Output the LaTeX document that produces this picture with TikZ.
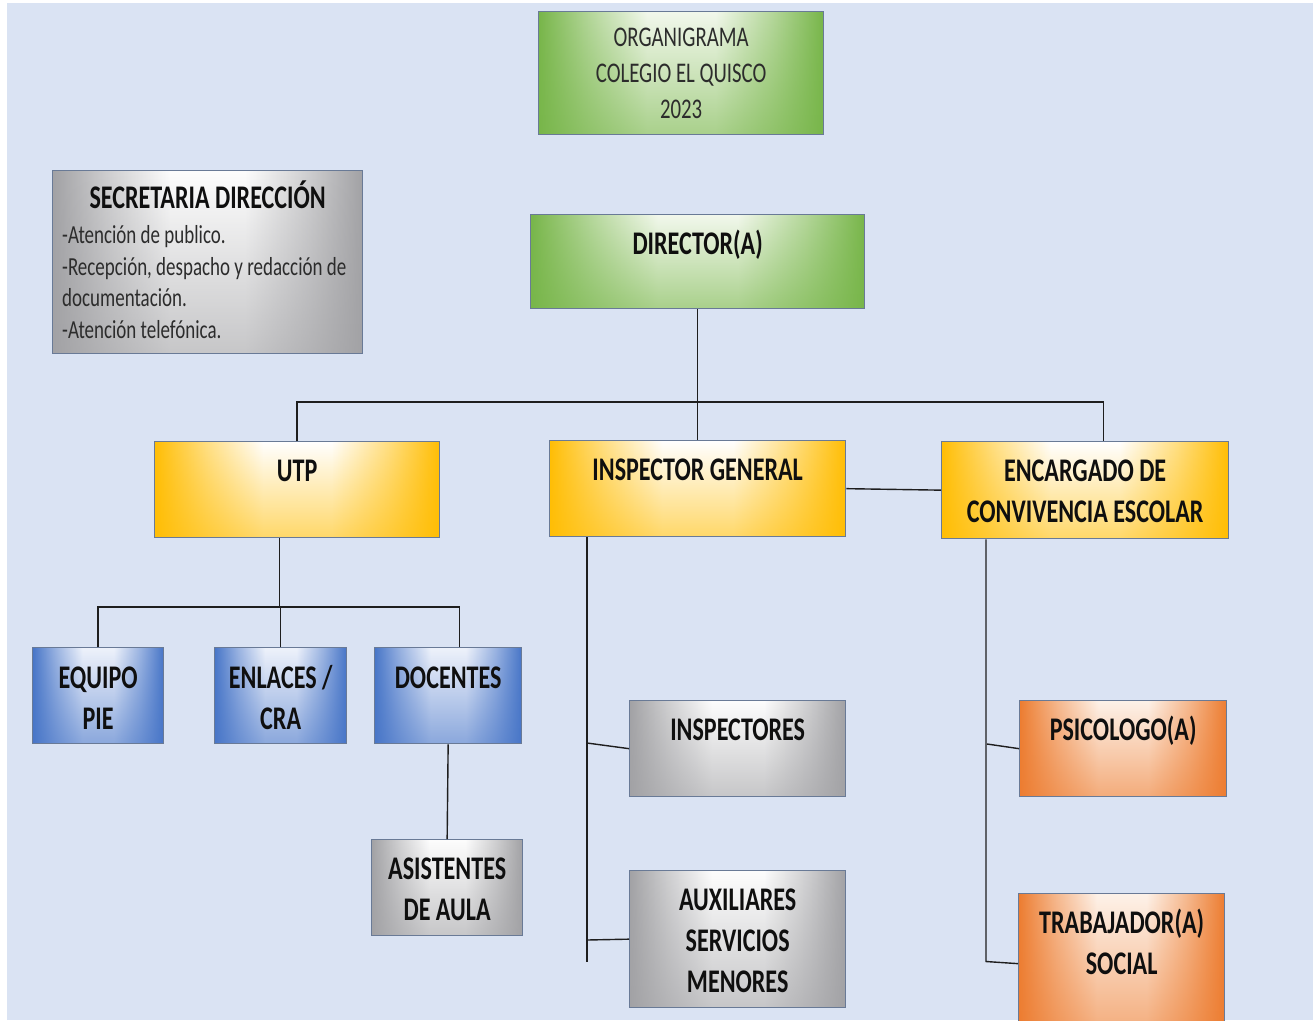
\documentclass[tikz,border=0pt]{standalone}
\usepackage{fontspec}
\setmainfont[FakeStretch=0.73]{Carlito}
\usetikzlibrary{calc,fadings}

\definecolor{bg}{RGB}{218,227,243}
\definecolor{bordc}{RGB}{105,122,150}
\definecolor{linec}{RGB}{30,30,30}
\definecolor{txt}{RGB}{15,15,15}
\definecolor{gIn}{RGB}{242,248,236}
\definecolor{gOut}{RGB}{120,182,74}
\definecolor{yIn}{RGB}{255,255,255}
\definecolor{yOut}{RGB}{255,190,5}
\definecolor{bIn}{RGB}{238,242,251}
\definecolor{bOut}{RGB}{72,118,200}
\definecolor{sIn}{RGB}{253,253,253}
\definecolor{sOut}{RGB}{162,162,165}
\definecolor{oIn}{RGB}{254,242,233}
\definecolor{oOut}{RGB}{237,125,49}
\colorlet{gMid}{gOut!50!gIn}
\colorlet{yMid}{yOut!50!yIn}
\colorlet{bMid}{bOut!50!bIn}
\colorlet{sMid}{sOut!50!sIn}
\colorlet{oMid}{oOut!50!oIn}

\pgfdeclarehorizontalshading{hgreen}{100bp}{color(0bp)=(gOut); color(25bp)=(gOut); color(34bp)=(gMid); color(44bp)=(gIn); color(56bp)=(gIn); color(66bp)=(gMid); color(75bp)=(gOut); color(100bp)=(gOut)}
\pgfdeclarehorizontalshading{hyellow}{100bp}{color(0bp)=(yOut); color(25bp)=(yOut); color(34bp)=(yMid); color(44bp)=(yIn); color(56bp)=(yIn); color(66bp)=(yMid); color(75bp)=(yOut); color(100bp)=(yOut)}
\pgfdeclarehorizontalshading{hblue}{100bp}{color(0bp)=(bOut); color(25bp)=(bOut); color(34bp)=(bMid); color(44bp)=(bIn); color(56bp)=(bIn); color(66bp)=(bMid); color(75bp)=(bOut); color(100bp)=(bOut)}
\pgfdeclarehorizontalshading{hgray}{100bp}{color(0bp)=(sOut); color(25bp)=(sOut); color(34bp)=(sMid); color(44bp)=(sIn); color(56bp)=(sIn); color(66bp)=(sMid); color(75bp)=(sOut); color(100bp)=(sOut)}
\pgfdeclarehorizontalshading{horange}{100bp}{color(0bp)=(oOut); color(25bp)=(oOut); color(34bp)=(oMid); color(44bp)=(oIn); color(56bp)=(oIn); color(66bp)=(oMid); color(75bp)=(oOut); color(100bp)=(oOut)}

\tikzfading[name=bottint, top color=transparent!100, middle color=transparent!90, bottom color=transparent!40]

\tikzset{
  box/.style={rectangle, draw=bordc, line width=1.3pt, inner sep=0pt, anchor=north west},
  tint/.style={path picture={\fill[#1, path fading=bottint]
      (path picture bounding box.south west) rectangle (path picture bounding box.north east);}},
  greenbox/.style={box, shading=hgreen, tint=gOut},
  yellowbox/.style={box, shading=hyellow, tint=yOut},
  bluebox/.style={box, shading=hblue, tint=bOut},
  graybox/.style={box, shading=hgray, tint=sOut},
  orangebox/.style={box, shading=horange, tint=oOut},
  lbl/.style={anchor=north, inner sep=0pt, align=center, text=txt,
    font=\fontsize{33}{41}\selectfont\bfseries, execute at begin node=\strut},
  ttl/.style={anchor=north, inner sep=0pt, align=center, text=txt!88,
    font=\fontsize{28.5}{36}\selectfont, execute at begin node=\strut},
  body/.style={anchor=north west, inner sep=0pt, align=left, text=txt!88,
    font=\fontsize{26}{31.5}\selectfont, execute at begin node=\strut},
  conn/.style={draw=linec, line width=1.4pt}
}

\begin{document}
\begin{tikzpicture}[x=1pt,y=-1pt]
\useasboundingbox (0,0) rectangle (1313,1020);
\fill[white] (0,0) rectangle (1313,1020);
\fill[bg] (7,3) rectangle (1313,1020);

% boxes
\node[greenbox, minimum width=285pt, minimum height=123pt] (title) at (538,11) {};
\node[graybox, minimum width=310pt, minimum height=183pt] (secr) at (52,170) {};
\node[greenbox, minimum width=334pt, minimum height=94pt] (dir) at (530,214) {};
\node[yellowbox, minimum width=285pt, minimum height=96pt] (utp) at (154,441) {};
\node[yellowbox, minimum width=296pt, minimum height=96pt] (ig) at (549,440) {};
\node[yellowbox, minimum width=287pt, minimum height=97pt] (enc) at (941,441) {};
\node[bluebox, minimum width=131pt, minimum height=96pt] (eqp) at (32,647) {};
\node[bluebox, minimum width=132pt, minimum height=96pt] (enl) at (214,647) {};
\node[bluebox, minimum width=147pt, minimum height=96pt] (doc) at (374,647) {};
\node[graybox, minimum width=151pt, minimum height=96pt] (asis) at (371,839) {};
\node[graybox, minimum width=216pt, minimum height=96pt] (insps) at (629,700) {};
\node[graybox, minimum width=216pt, minimum height=137pt] (aux) at (629,870) {};
\node[orangebox, minimum width=207pt, minimum height=96pt] (psi) at (1019,700) {};
\node[orangebox, minimum width=206pt, minimum height=140pt] (trab) at (1018,893) {};

% texts
\node[ttl] (titleT) at ([yshift=-9.8pt]title.north) {\strut ORGANIGRAMA\\COLEGIO EL QUISCO\\2023};
\node[lbl] (secrT) at ([yshift=-9.9pt]secr.north) {SECRETARIA DIRECCIÓN};
\node[body] (secrB) at (62,221.7) {\strut -Atención de publico.\\-Recepción, despacho y redacción de\\documentación.\\-Atención telefónica.};
\node[lbl] (dirT) at ([yshift=-11.3pt]dir.north) {DIRECTOR(A)};
\node[lbl] (utpT) at ([yshift=-11.3pt]utp.north) {UTP};
\node[lbl] (igT) at ([yshift=-11.3pt]ig.north) {INSPECTOR GENERAL};
\node[lbl] (encT) at ([yshift=-11.3pt]enc.north) {\strut ENCARGADO DE\\CONVIVENCIA ESCOLAR};
\node[lbl] (eqpT) at ([yshift=-12.3pt]eqp.north) {\strut EQUIPO\\PIE};
\node[lbl] (enlT) at ([yshift=-12.3pt]enl.north) {\strut ENLACES /\\CRA};
\node[lbl] (docT) at ([yshift=-12.3pt]doc.north) {DOCENTES};
\node[lbl] (asisT) at ([yshift=-11.3pt]asis.north) {\strut ASISTENTES\\DE AULA};
\node[lbl] (inspsT) at ([yshift=-11.3pt]insps.north) {INSPECTORES};
\node[lbl] (auxT) at ([yshift=-11.3pt]aux.north) {\strut AUXILIARES\\SERVICIOS\\MENORES};
\node[lbl] (psiT) at ([yshift=-11.3pt]psi.north) {PSICOLOGO(A)};
\node[lbl] (trabT) at ([yshift=-11.3pt]trab.north) {\strut TRABAJADOR(A)\\SOCIAL};

% junction coordinates
\coordinate (busA) at (0,402);
\coordinate (busB) at (0,607);
\coordinate (encTop) at ([xshift=18.5pt]enc.north);
\coordinate (utpBot) at ([xshift=-17.5pt]utp.south);
\coordinate (docTop) at ([xshift=11.5pt]doc.north);
\coordinate (igTop) at ([xshift=38pt]ig.south west);
\coordinate (igA) at (587,743);
\coordinate (igB) at (587,940);
\coordinate (igEnd) at (587,962);
\coordinate (ecTop) at ([xshift=45pt]enc.south west);
\coordinate (ecA) at (987,744);
\coordinate (ecEnd) at (986,961.5);

% connectors
\draw[conn] (dir.south) -- (ig.north);
\draw[conn] (utp.north) -- (utp.north |- busA) -- (encTop |- busA) -- (encTop);
\draw[conn] (ig.east) -- (enc.west);
\draw[conn] (utpBot) -- (utpBot |- busB);
\draw[conn] (eqp.north) -- (eqp.north |- busB) -- (docTop |- busB) -- (docTop);
\draw[conn] (enl.north) -- (enl.north |- busB);
\draw[conn] (doc.south) -- (asis.north);
\draw[conn] (igTop) -- (igEnd);
\draw[conn] (igA) -- (insps.west);
\draw[conn] (igB) -- (aux.west);
\draw[conn] (ecTop) -- (ecEnd) -- (trab.west);
\draw[conn] (ecA) -- (psi.west);
\end{tikzpicture}
\end{document}
